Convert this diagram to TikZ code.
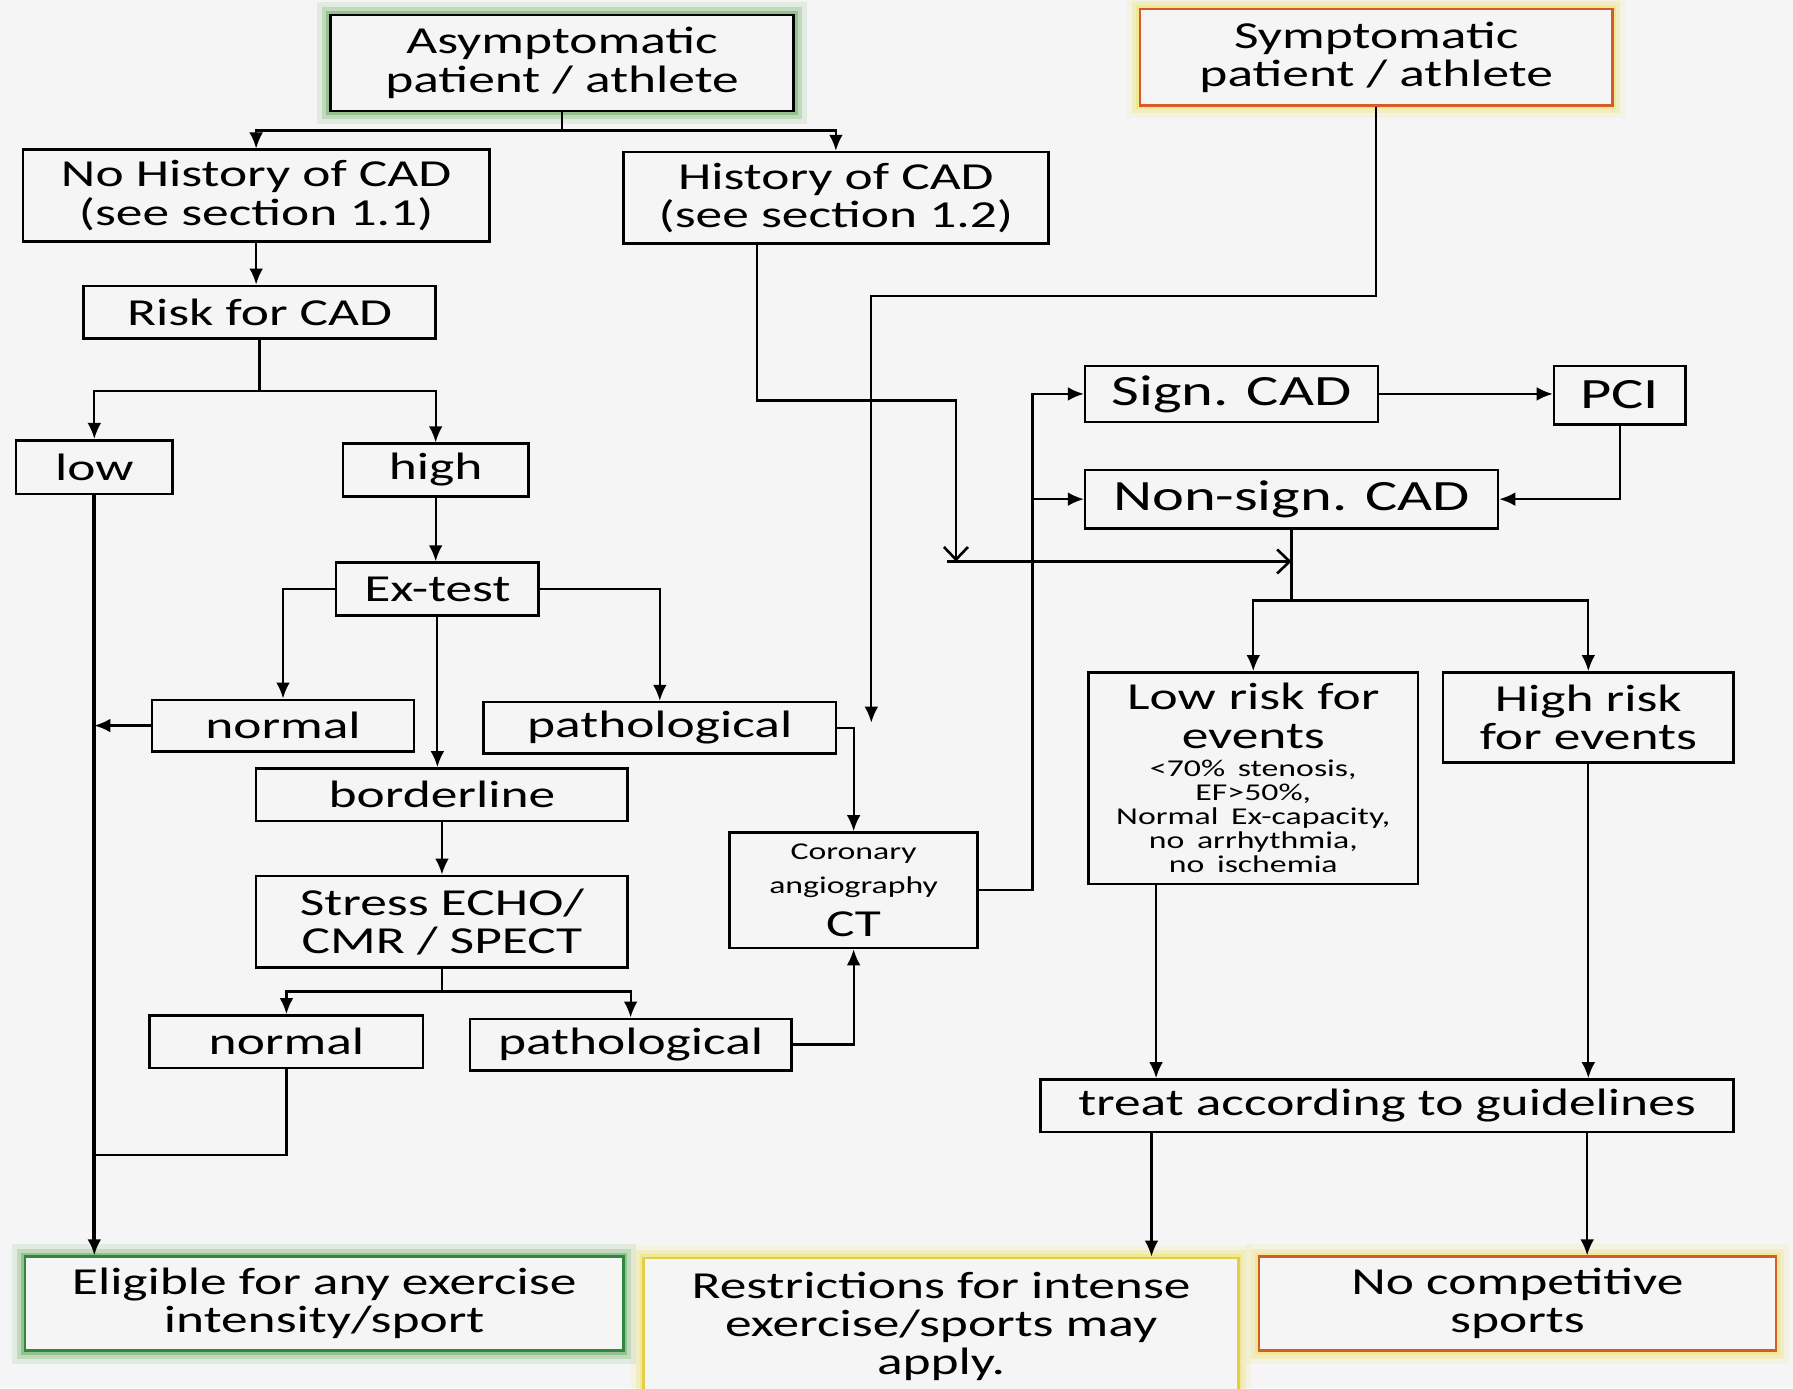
\documentclass[tikz,border=0pt]{standalone}
\usepackage{fontspec}
\setmainfont[FakeStretch=1.4]{Carlito}
\usetikzlibrary{arrows.meta}

\definecolor{bgcol}{RGB}{245,245,245}
\definecolor{glowgreen}{RGB}{95,165,85}
\definecolor{bordgreen}{RGB}{45,135,65}
\definecolor{glowyellow}{RGB}{240,226,95}
\definecolor{bordred}{RGB}{215,90,45}
\definecolor{bordyellow}{RGB}{228,205,75}

\tikzset{
  box/.style={draw, fill=bgcol, line width=1.3pt, align=center, inner sep=0pt,
    font=\fontsize{19}{19}\selectfont},
  bigbox/.style={box, font=\fontsize{21.5}{21.5}\selectfont},
  glow/.style={preaction={draw=#1, line width=13pt, opacity=0.12},
    preaction={draw=#1, line width=8pt, opacity=0.25},
    preaction={draw=#1, line width=4pt, opacity=0.45}},
  link/.style={line width=1.1pt},
  flow/.style={link, -{Latex[length=2.8mm,width=2.4mm]}},
  openflow/.style={line width=1.3pt, -{Straight Barb[length=2.2mm,width=4.2mm]}},
}

\begin{document}
\begin{tikzpicture}[x=0.2mm,y=-0.2mm]
  % Sfondo
  \useasboundingbox (0,0) rectangle (1568,1214);
  \fill[bgcol] (0,0) rectangle (1568,1214);

  % Inizio
  \node[box, glow=glowgreen, minimum width=81mm, minimum height=16.8mm] (asym) at (491.5,55) {Asymptomatic\\patient / athlete};
  \node[box, draw=bordred, glow=glowyellow, minimum width=82.6mm, minimum height=16.8mm] (sym) at (1203.5,50) {Symptomatic\\patient / athlete};
  \node[box, minimum width=81.6mm, minimum height=16mm] (nohist) at (224,171) {No History of CAD\\(see section 1.1)};
  \node[box, minimum width=74.4mm, minimum height=16mm] (hist) at (731,173) {History of CAD\\(see section 1.2)};

  % Rischio
  \node[box, minimum width=61.6mm, minimum height=9.2mm] (risk) at (227,273) {Risk for CAD};
  \node[box, minimum width=27.4mm, minimum height=9.4mm] (low) at (82.5,408.5) {low};
  \node[box, minimum width=32.4mm, minimum height=9.2mm] (high) at (381,411) {high};

  % Test
  \node[box, minimum width=35.4mm, minimum height=9.2mm] (extest) at (382.5,515) {Ex-test};
  \node[box, minimum width=45.8mm, minimum height=9mm] (normA) at (247.5,634.5) {normal};
  \node[box, minimum width=61.6mm, minimum height=9mm] (pathA) at (577,636.5) {pathological};
  \node[box, minimum width=65mm, minimum height=9.2mm] (border) at (386.5,695) {borderline};
  \node[box, minimum width=65mm, minimum height=16mm] (stress) at (386.5,806) {Stress ECHO/\\CMR / SPECT};
  \node[box, minimum width=47.8mm, minimum height=9.2mm] (normB) at (250.5,911) {normal};
  \node[box, minimum width=56.2mm, minimum height=9mm] (pathB) at (551.5,913.5) {pathological};
  \node[box, text width=42mm, minimum width=43.4mm, minimum height=20.2mm] (coro) at (746.5,778.5)
    {\fontsize{12}{17}\selectfont Coronary\\angiography\par\fontsize{19}{21}\selectfont CT\par};

  % CAD
  \node[bigbox, minimum width=51.2mm, minimum height=9.8mm] (sign) at (1077,344.5) {Sign. CAD};
  \node[bigbox, minimum width=23mm, minimum height=10.2mm] (pci) at (1416.5,345.5) {PCI};
  \node[bigbox, minimum width=72.2mm, minimum height=10.2mm] (nonsign) at (1129.5,436.5) {Non-sign. CAD};
  \node[box, text width=55mm, minimum width=57.6mm, minimum height=37mm] (lowrisk) at (1096,680.5)
    {Low risk for\\events\par\vspace{2pt}\fontsize{12}{12}\selectfont <70\% stenosis,\\EF>50\%,\\Normal Ex-capacity,\\no arrhythmia,\\no ischemia\par};
  \node[box, minimum width=50.8mm, minimum height=15.8mm] (highrisk) at (1389,627.5) {High risk\\for events};
  \node[box, minimum width=121.2mm, minimum height=9.2mm] (treat) at (1213,967) {treat according to guidelines};

  % Esito
  \node[box, draw=bordgreen, glow=glowgreen, minimum width=104.6mm, minimum height=16.4mm] (elig) at (283.5,1140) {Eligible for any exercise\\intensity/sport};
  \node[box, draw=bordyellow, glow=glowyellow, minimum width=104mm, minimum height=24mm] (restr) at (823,1160) {Restrictions for intense\\exercise/sports may\\apply.};
  \node[box, draw=bordred, glow=glowyellow, minimum width=90.4mm, minimum height=16.4mm] (nocomp) at (1327,1140) {No competitive\\sports};

  \coordinate (joinL) at (83,1010);
  \coordinate (hdrop) at (836,491);
  \coordinate (symend) at (762,632);
  \coordinate (coroR) at (903,778.5);

  % Frecce sinistra
  \draw[flow] (asym.south) -- ++(0,16) -| (nohist.north);
  \draw[flow] (asym.south) -- ++(0,16) -| (hist.north);
  \draw[flow] (nohist.south) -- (nohist.south |- risk.north);
  \draw[flow] (risk.south) -- ++(0,45) -| (low.north);
  \draw[flow] (risk.south) -- ++(0,45) -| (high.north);
  \draw[flow, line width=2pt] (low.south) -- (low.south |- elig.north);
  \draw[flow] (high.south) -- (high.south |- extest.north);
  \draw[flow] (extest.west) -| (normA.north);
  \draw[flow] (extest.east) -| (pathA.north);
  \draw[flow] (extest.south) -- (extest.south |- border.north);
  \draw[flow] (normA.west) -- (normA.west -| low.south);
  \draw[flow] (border.south) -- (border.south |- stress.north);
  \draw[flow] (stress.south) -- ++(0,20) -| (normB.north);
  \draw[flow] (stress.south) -- ++(0,20) -| (pathB.north);
  \draw[link] (normB.south) |- (joinL);
  \draw[flow] (pathB.east) -| (coro.south);
  \draw[flow] (pathA.east) -| (coro.north);

  % Frecce destra
  \draw[flow] (coro.east) -- (coroR) |- (sign.west);
  \draw[flow] (coroR) |- (nonsign.west);
  \draw[openflow] ([xshift=-13.8mm]hist.south) -- ++(0,136) -| (hdrop);
  \draw[openflow] ([xshift=-1.6mm]hdrop) -- (hdrop -| nonsign.south);
  \draw[flow] (sym.south) -- ++(0,166) -| (symend);
  \draw[flow] (sign.east) -- (sign.east -| pci.west);
  \draw[flow] (pci.south) |- (nonsign.east);
  \draw[flow] (nonsign.south) -- ++(0,62) -| (lowrisk.north);
  \draw[flow] (nonsign.south) -- ++(0,62) -| (highrisk.north);
  \draw[flow] ([xshift=-17mm]lowrisk.south) -- ([xshift=-17mm]lowrisk.south |- treat.north);
  \draw[flow] (highrisk.south) -- (highrisk.south |- treat.north);
  \draw[flow] ([xshift=-41.2mm]treat.south) -- ([xshift=-41.2mm]treat.south |- restr.north);
  \draw[flow] ([xshift=35mm]treat.south) -- ([xshift=35mm]treat.south |- nocomp.north);
\end{tikzpicture}
\end{document}
